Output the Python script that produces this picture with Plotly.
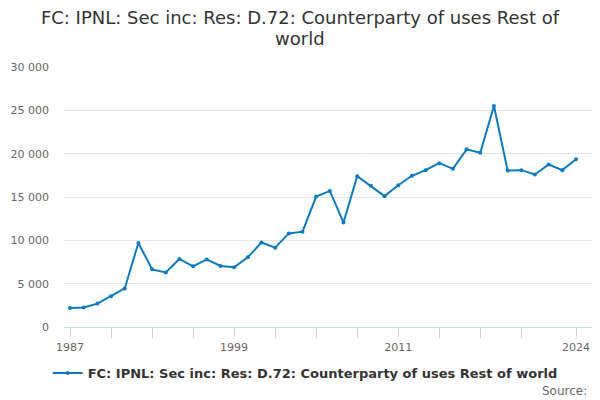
import plotly.graph_objects as go

years = list(range(1987, 2025))
values = [2200, 2250, 2700, 3550, 4450, 9700, 6650, 6300, 7850, 7000,
          7800, 7050, 6900, 8050, 9750, 9150, 10800, 11000, 15050, 15700,
          12050, 17400, 16300, 15100, 16350, 17450, 18100, 18900, 18250, 20500,
          20100, 25500, 18050, 18100, 17600, 18750, 18100, 19350]

tick_years = [1987, 1990, 1993, 1996, 1999, 2002, 2005, 2008, 2011, 2014, 2017, 2020, 2024]
tick_labels = ['1987', '', '', '', '1999', '', '', '', '2011', '', '', '', '2024']

series_name = 'FC: IPNL: Sec inc: Res: D.72: Counterparty of uses Rest of world'
line_col = '#0b7bc1'

fig = go.Figure()
fig.add_trace(go.Scatter(x=years, y=values, mode='lines+markers', name=series_name,
                         line=dict(color=line_col, width=2),
                         marker=dict(color=line_col, size=4)))

# page body has an 8px margin, so the figure is made 8px smaller
# title is split in two so the line gap is tighter than plotly's default
fig.update_layout(
    width=592, height=392,
    paper_bgcolor='white', plot_bgcolor='white',
    font=dict(family='DejaVu Sans, sans-serif', color='#666666'),
    separators='. ',
    margin=dict(l=56, r=8, t=59, b=73, autoexpand=False),
    title=dict(text='FC: IPNL: Sec inc: Res: D.72: Counterparty of uses Rest of',
               x=0.4932, xref='container', y=0.9745, yref='container', yanchor='middle',
               font=dict(size=18, color='#333333')),
    xaxis=dict(range=[1986.56, 2025.17], tickvals=tick_years, ticktext=tick_labels,
               ticks='outside', ticklen=10, tickcolor='#ccd6eb', tickwidth=1,
               showline=True, linecolor='#ccd6eb', linewidth=1, automargin=False,
               showgrid=False, zeroline=False, tickfont=dict(size=11, color='#666666')),
    yaxis=dict(range=[0, 30000], dtick=5000, tickformat=',', showgrid=True,
               gridcolor='#e6e6e6', zeroline=False, ticks='', ticklabelstandoff=14,
               automargin=False, tickfont=dict(size=11, color='#666666')),
    showlegend=True,
    legend=dict(orientation='h', x=0.502, xref='container', xanchor='center',
                y=0.069, yref='container', yanchor='middle',
                font=dict(size=13, color='#333333', weight='bold')),
    annotations=[
        dict(text='world', x=0.447, xref='paper', y=1.108, yref='paper',
             showarrow=False, xanchor='center', yanchor='middle',
             font=dict(size=18, color='#333333')),
        dict(text='Source:', x=0.994, xref='paper', y=-0.246, yref='paper',
             showarrow=False, xanchor='right', yanchor='middle',
             font=dict(size=12, color='#666666')),
    ]
)

fig.write_html('out.html')
